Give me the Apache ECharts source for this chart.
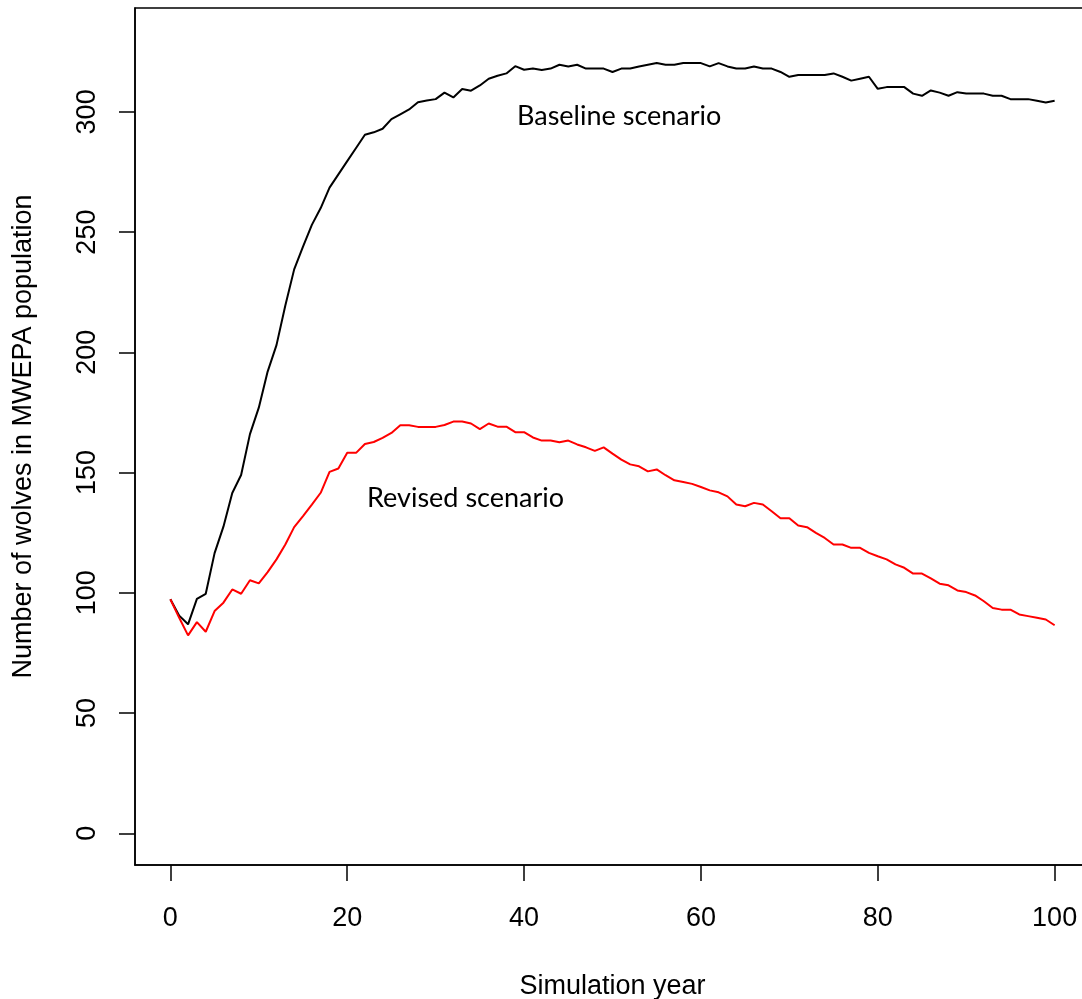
<!DOCTYPE html>
<html>
<head>
<meta charset="utf-8">
<script src="https://cdn.jsdelivr.net/npm/echarts@6/dist/echarts.min.js"></script>
<style>
html,body{margin:0;padding:0;background:#fff;}
#chart{width:1082px;height:999px;}
</style>
</head>
<body>
<div id="chart"></div>
<script>
// Simulation years 0..100
const years = [];
for (let i = 0; i <= 100; i++) years.push(i);

// Baseline scenario (black)
const baseline = [
  97.3, 90.5, 86.9, 97.5, 99.6, 116.5, 127.5, 141.5, 149, 166, 177,
  192, 203, 219.5, 234.5, 244, 253, 260, 268.5, 274, 279.5,
  285, 290.5, 291.5, 293, 297, 299, 301, 304, 304.7, 305.3,
  308, 306, 309.5, 308.8, 311, 313.8, 315, 316, 319, 317.5,
  318, 317.4, 318, 319.6, 318.9, 319.6, 318, 318, 318, 316.6,
  318, 318, 318.9, 319.6, 320.3, 319.6, 319.6, 320.3, 320.3, 320.3,
  318.9, 320.3, 318.9, 318, 318, 318.9, 318, 318, 316.6, 314.6,
  315.3, 315.3, 315.3, 315.3, 316, 314.6, 313, 313.8, 314.6, 309.6,
  310.3, 310.3, 310.3, 307.6, 306.7, 308.9, 308, 306.7, 308.2, 307.6,
  307.6, 307.6, 306.7, 306.7, 305.3, 305.3, 305.3, 304.6, 303.9, 304.6
];

// Revised scenario (red)
const revised = [
  97.3, 89.6, 82.3, 87.8, 83.8, 92.4, 95.9, 101.4, 99.6, 105.2, 103.9,
  108.6, 113.9, 120.1, 127.3, 131.9, 136.7, 141.6, 150.3, 151.7, 158.2,
  158.2, 161.9, 162.7, 164.4, 166.5, 169.7, 169.7, 169, 169, 169,
  169.8, 171.2, 171.2, 170.4, 168.1, 170.4, 169.1, 169.1, 166.8, 166.8,
  164.6, 163.3, 163.3, 162.6, 163.3, 161.7, 160.5, 159, 160.5, 157.9,
  155.4, 153.4, 152.6, 150.5, 151.3, 148.9, 146.8, 146.1, 145.3, 144,
  142.6, 141.8, 140.1, 136.7, 136, 137.4, 136.7, 133.9, 131, 131,
  128, 127.3, 124.9, 122.8, 120.1, 120.1, 118.7, 118.7, 116.6, 115.2,
  113.9, 111.8, 110.4, 108, 108, 106, 103.8, 103.1, 101, 100.3,
  98.9, 96.5, 93.7, 93, 93, 91, 90.3, 89.6, 88.9, 86.5
];

const xTicks = [0, 20, 40, 60, 80, 100];
const yTicks = [0, 50, 100, 150, 200, 250, 300];

const xTitle = 'Simulation year';
const yTitle = 'Number of wolves in MWEPA population';
const baselineLabel = 'Baseline scenario';
const revisedLabel = 'Revised scenario';

const chart = echarts.init(document.getElementById('chart'), null, {renderer: 'canvas'});

const axisFont = {fontFamily: 'Liberation Sans, Arial, sans-serif', fontSize: 27, color: '#000'};

chart.setOption({
  animation: false,
  backgroundColor: '#fff',
  grid: {
    left: 135, top: 8, width: 955, height: 857,
    containLabel: false, outerBoundsMode: 'none',
    show: true, borderColor: '#000', borderWidth: 1.5, backgroundColor: 'transparent'
  },
  xAxis: {
    type: 'value', min: -4, max: 104,
    name: xTitle, nameLocation: 'middle', nameGap: 108,
    nameTextStyle: Object.assign({}, axisFont),
    axisLine: {show: true, onZero: false, lineStyle: {color: '#000', width: 1.5}},
    axisTick: {show: true, length: 16, lineStyle: {color: '#000', width: 1.5}, customValues: xTicks},
    axisLabel: Object.assign({margin: 40, customValues: xTicks}, axisFont),
    splitLine: {show: false}
  },
  yAxis: {
    type: 'value', min: -13.2, max: 343.2,
    name: yTitle, nameLocation: 'middle', nameGap: 98, nameRotate: 90,
    nameTextStyle: Object.assign({}, axisFont),
    axisLine: {show: true, onZero: false, lineStyle: {color: '#000', width: 1.5}},
    axisTick: {show: true, length: 16, lineStyle: {color: '#000', width: 1.5}, customValues: yTicks},
    axisLabel: Object.assign({margin: 34, rotate: 90, customValues: yTicks}, axisFont),
    splitLine: {show: false}
  },
  series: [
    {
      name: baselineLabel, type: 'line', showSymbol: false, symbol: 'none',
      data: years.map((y, i) => [y, baseline[i]]),
      lineStyle: {color: '#000', width: 2}, itemStyle: {color: '#000'}
    },
    {
      name: revisedLabel, type: 'line', showSymbol: false, symbol: 'none',
      data: years.map((y, i) => [y, revised[i]]),
      lineStyle: {color: '#ff0000', width: 2}, itemStyle: {color: '#ff0000'}
    }
  ],
  graphic: [
    {type: 'text', left: 517, top: 103, style: {text: baselineLabel, font: '27px Lato, "Open Sans", sans-serif', fill: '#000'}},
    {type: 'text', left: 367, top: 485, style: {text: revisedLabel, font: '27px Lato, "Open Sans", sans-serif', fill: '#000'}}
  ]
});
</script>
</body>
</html>
